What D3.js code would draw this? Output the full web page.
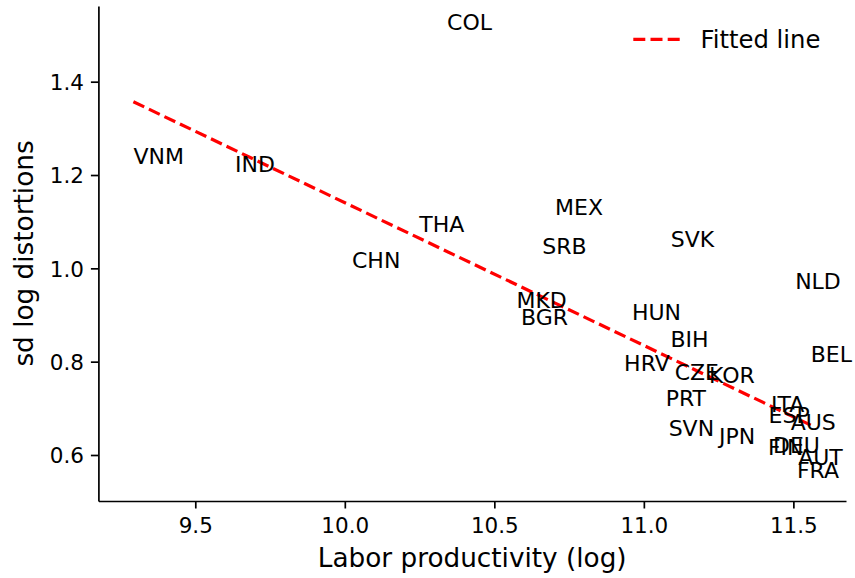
<!DOCTYPE html>
<html>
<head>
<meta charset="utf-8">
<script src="https://cdn.jsdelivr.net/npm/d3@7"></script>
<style>
  body { margin: 0; background: #fff; }
  svg text { font-family: "DejaVu Sans", sans-serif; fill: #000; }
</style>
</head>
<body>
<div id="chart"></div>
<script>
// 국가별 값 (라벨 좌하단 = 데이터 위치)
const countries = ['COL', 'VNM', 'IND', 'THA', 'CHN', 'MEX', 'SRB', 'SVK', 'NLD', 'MKD', 'BGR', 'HUN', 'BIH', 'BEL',
    'HRV', 'CZE', 'KOR', 'PRT', 'ITA', 'ESP', 'AUS', 'SVN', 'JPN', 'FIN', 'DEU', 'AUT', 'FRA'];
const prodLog = [10.342, 9.293, 9.633, 10.249, 10.024, 10.703, 10.660, 11.090, 11.506, 10.574, 10.589, 10.960, 11.089, 11.558,
    10.934, 11.103, 11.218, 11.073, 11.425, 11.417, 11.491, 11.083, 11.251, 11.415, 11.432, 11.516, 11.512];
const sdLog = [1.511, 1.224, 1.207, 1.078, 1.000, 1.114, 1.031, 1.046, 0.955, 0.914, 0.879, 0.889, 0.831, 0.800,
    0.779, 0.761, 0.754, 0.705, 0.692, 0.669, 0.654, 0.641, 0.624, 0.600, 0.604, 0.579, 0.551];

// 회귀선 양 끝점
const fitX = [9.293, 11.558];
const fitY = [1.357, 0.664];

const xTicks = [9.5, 10.0, 10.5, 11.0, 11.5];
const yTicks = [0.6, 0.8, 1.0, 1.2, 1.4];

const width = 855, height = 578;
const margin = { left: 98.4, right: 9, top: 6, bottom: 77 };

const svg = d3.select('#chart')
    .append('svg')
    .attr('width', width)
    .attr('height', height);

const x = d3.scaleLinear()
    .domain([9.176, 11.676])
    .range([margin.left, width - margin.right]);
const y = d3.scaleLinear()
    .domain([0.5014, 1.5622])
    .range([height - margin.bottom, margin.top]);

// 축 (matplotlib 스타일: 위/오른쪽 스파인 없음)
// tickSize 가 outer 도 바꾸므로 tickSizeOuter 는 그 뒤에
const xAxis = svg.append('g')
    .attr('transform', `translate(0, ${height - margin.bottom})`)
    .call(d3.axisBottom(x).tickValues(xTicks).tickFormat(d3.format('.1f')).tickSize(7.5).tickSizeOuter(0).tickPadding(7));
const yAxis = svg.append('g')
    .attr('transform', `translate(${margin.left}, 0)`)
    .call(d3.axisLeft(y).tickValues(yTicks).tickFormat(d3.format('.1f')).tickSize(7.5).tickSizeOuter(0).tickPadding(7));

[xAxis, yAxis].forEach(a => {
    a.select('.domain').attr('stroke', '#000').attr('stroke-width', 1.7);
    a.selectAll('.tick line').attr('stroke', '#000').attr('stroke-width', 1.7);
    a.selectAll('.tick text')
        .style('font-family', '"DejaVu Sans", sans-serif')
        .style('font-size', '21.5px')
        .attr('fill', '#000');
});
xAxis.selectAll('.tick text').attr('dy', null).attr('y', 32);
yAxis.selectAll('.tick text').attr('dy', '0.36em');

// 축 제목
svg.append('text')
    .attr('x', (x.range()[0] + x.range()[1]) / 2)
    .attr('y', 567)
    .attr('text-anchor', 'middle')
    .style('font-size', '26.3px')
    .text('Labor productivity (log)');

svg.append('text')
    .attr('transform', `translate(33, ${(y.range()[0] + y.range()[1]) / 2}) rotate(-90)`)
    .attr('text-anchor', 'middle')
    .style('font-size', '26.3px')
    .text('sd log distortions');

// 회귀선
const line = d3.line()
    .x(d => x(d[0]))
    .y(d => y(d[1]));

svg.append('path')
    .datum(fitX.map((v, i) => [v, fitY[i]]))
    .attr('d', line)
    .attr('fill', 'none')
    .attr('stroke', '#ff0000')
    .attr('stroke-width', 3.2)
    .attr('stroke-dasharray', '12,5.2');

// 국가 라벨
svg.selectAll('.country')
    .data(countries)
    .join('text')
    .attr('class', 'country')
    .attr('x', (d, i) => x(prodLog[i]))
    .attr('y', (d, i) => y(sdLog[i]))
    .style('font-size', '22px')
    .text(d => d);

// 범례 (프레임 없음)
const legend = svg.append('g').attr('class', 'legend');
legend.append('line')
    .attr('x1', 633.3).attr('x2', 680.7)
    .attr('y1', 39.3).attr('y2', 39.3)
    .attr('stroke', '#ff0000')
    .attr('stroke-width', 3.2)
    .attr('stroke-dasharray', '12,5.2');
legend.append('text')
    .attr('x', 700.5)
    .attr('y', 48.3)
    .style('font-size', '24.3px')
    .text('Fitted line');
</script>
</body>
</html>
